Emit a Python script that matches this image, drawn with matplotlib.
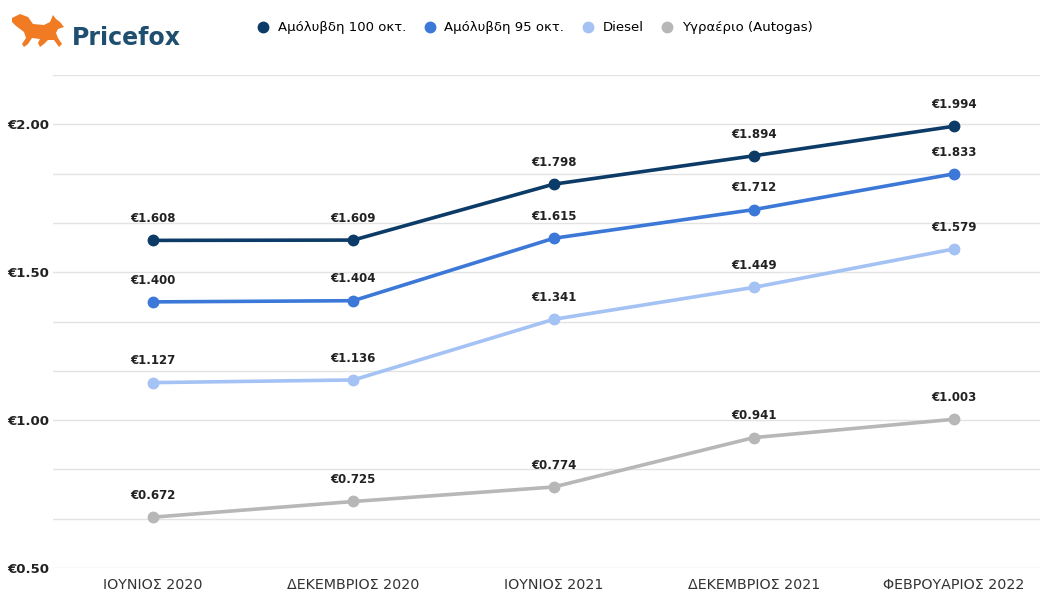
import matplotlib.pyplot as plt
from matplotlib.patches import Polygon
from matplotlib.lines import Line2D
import numpy as np

months = ['ΙΟΥΝΙΟΣ 2020', 'ΔΕΚΕΜΒΡΙΟΣ 2020', 'ΙΟΥΝΙΟΣ 2021', 'ΔΕΚΕΜΒΡΙΟΣ 2021', 'ΦΕΒΡΟΥΑΡΙΟΣ 2022']
unleaded_100 = [1.608, 1.609, 1.798, 1.894, 1.994]
unleaded_95 = [1.400, 1.404, 1.615, 1.712, 1.833]
diesel = [1.127, 1.136, 1.341, 1.449, 1.579]
autogas = [0.672, 0.725, 0.774, 0.941, 1.003]

series = [
    ('Αμόλυβδη 100 οκτ.', unleaded_100, '#0b3b66'),
    ('Αμόλυβδη 95 οκτ.', unleaded_95, '#3c78d8'),
    ('Diesel', diesel, '#a4c2f4'),
    ('Υγραέριο (Autogas)', autogas, '#b7b7b7'),
]

fig = plt.figure(figsize=(10.4, 5.92), dpi=100)
ax = fig.add_axes([0.051, 0.0405, 0.949, 0.8325])

x = np.arange(len(months))
for name, vals, col in series:
    ax.plot(x, vals, color=col, lw=2.6, marker='o', ms=7.5, zorder=3, solid_capstyle='round')
    for xi, v in zip(x, vals):
        ax.annotate('€%.3f' % v, (xi, v), xytext=(0, 11), textcoords='offset points',
                    ha='center', va='bottom', fontsize=8.5, fontweight='bold', color='#222222')

ymin, ymax = 0.5, 0.5 + 0.5 / 3 * 10
ax.set_ylim(ymin, ymax)
ax.set_xlim(-0.5, 4.43)
ax.set_yticks(np.linspace(ymin, ymax, 11), minor=True)
ax.set_yticks([0.5, 1.0, 1.5, 2.0])
ax.set_yticklabels(['€0.50', '€1.00', '€1.50', '€2.00'], fontweight='bold', fontsize=9.5)
ax.yaxis.grid(True, which='both', color='#e3e3e3', lw=1)
ax.set_axisbelow(True)
ax.tick_params(axis='y', which='both', length=0, pad=3, colors='#222222')
ax.set_xticks(x)
ax.set_xticklabels(months, fontsize=10.3)
ax.tick_params(axis='x', length=0, pad=7, colors='#333333')
for s in ax.spines.values():
    s.set_visible(False)

# legend across the top
handles = [Line2D([], [], ls='', marker='o', ms=7.5, color=c) for _, _, c in series]
fig.legend(handles, [n for n, _, _ in series], loc='center', bbox_to_anchor=(0.511, 0.953),
           ncol=4, frameon=False, fontsize=9.5, handletextpad=0.1, columnspacing=0.8)

# pricefox logo: fox silhouette in pixel coords
fox = np.array([[12, 18], [20, 14], [28, 17], [33, 24], [44, 25], [50, 22], [53, 15],
                [56, 19], [60, 22], [64, 27], [58, 29], [56, 33], [58, 38], [62, 44],
                [59, 47], [54, 40], [48, 40], [44, 44], [40, 47], [38, 43], [40, 39],
                [32, 38], [28, 44], [24, 47], [22, 44], [26, 38], [24, 32], [16, 26],
                [12, 22]], dtype=float)
fox[:, 1] = 592 - fox[:, 1]
fig.patches.append(Polygon(fox, closed=True, transform=None, facecolor='#f07b22',
                           edgecolor='none', figure=fig))
fig.text(72 / 1040, 1 - 38 / 592, 'Pricefox', fontsize=17, fontweight='bold',
         color='#1f4f6e', va='center', ha='left')

fig.savefig('out.png', dpi=100, facecolor='white')
